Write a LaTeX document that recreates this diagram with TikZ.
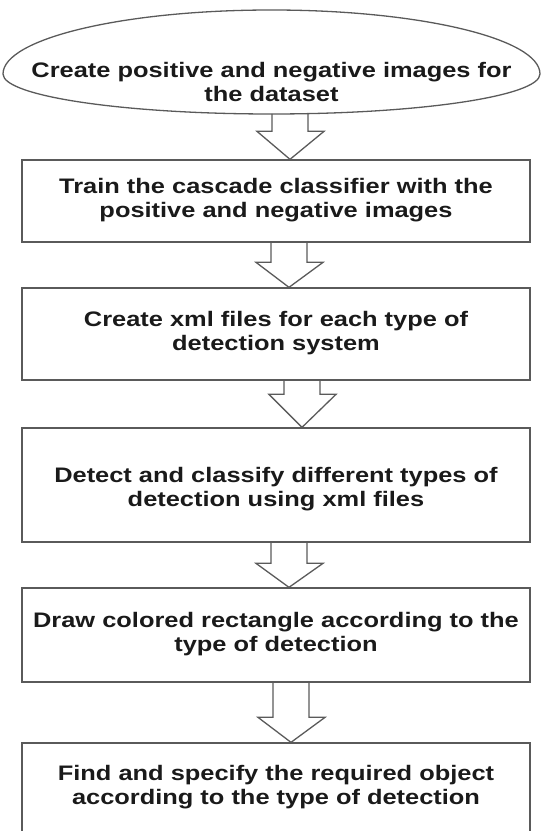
\documentclass[tikz,border=0pt]{standalone}
\usepackage{fontspec}
\setmainfont{Liberation Sans}
\usetikzlibrary{calc}
\definecolor{edge}{HTML}{5A5A5A}
\definecolor{ink}{HTML}{1A1A1A}
% bold text, widened horizontally, lines centred
\newcommand\wideline[1]{\scalebox{1.21}[1]{\begin{tabular}{@{}c@{}}#1\end{tabular}}}
% hollow block arrow: #1 upper point, #2 lower point, #3 centre x (pt), #4 head length (pt)
\newcommand\blockarrow[4]{%
  \draw[arrowline] let \p1=#1, \p2=#2 in
    ({#3pt-18pt},\y1) -- ({#3pt-18pt},{\y2+#4pt}) -- ({#3pt-33pt},{\y2+#4pt})
    -- (#3pt,\y2) -- ({#3pt+34pt},{\y2+#4pt}) -- ({#3pt+18pt},{\y2+#4pt})
    -- ({#3pt+18pt},\y1);}
\begin{document}
\begin{tikzpicture}[x=1pt,y=1pt,
  txt/.style={font=\fontsize{21}{24}\selectfont\bfseries, text=ink, inner sep=0pt},
  stepbox/.style={txt, draw=edge, line width=1.3pt, rectangle,
                  minimum width=508pt},
  arrowline/.style={draw=edge, line width=1.3pt, line join=miter}]
\useasboundingbox (0,0) rectangle (542,831);
\clip (0,0) rectangle (542,831);

% start ellipse (wider above its widest line than below)
\draw[draw=edge, line width=1.3pt]
  (3,757) arc[start angle=180, end angle=0, x radius=268.5, y radius=64]
          arc[start angle=0, end angle=-180, x radius=268.5, y radius=40];
\node[txt] (start) at (271.5,746)
  {\wideline{Create positive and negative images for\\the dataset}};
\coordinate (start-s) at (271.5,717);

% process steps
\node[stepbox, minimum height=82pt] (b1) at (276,630)
  {\wideline{Train the cascade classifier with the\\positive and negative images}};
\node[stepbox, minimum height=92pt] (b2) at (276,497)
  {\wideline{Create xml files for each type of\\detection system}};
\node[stepbox, minimum height=114pt] (b3) at (276,346) {};
\node[txt] (b3-text) at ($(b3.center)+(0,-5)$)
  {\wideline{Detect and classify different types of\\detection using xml files}};
\node[stepbox, minimum height=94pt] (b4) at (276,196)
  {\wideline{Draw colored rectangle according to the\\type of detection}};
\node[stepbox, minimum height=89pt] (b5) at (276,43.5)
  {\wideline{Find and specify the required object\\according to the type of detection}};

% connectors
\blockarrow{(start-s)}{(b1.north)}{290}{28}
\blockarrow{(b1.south)}{(b2.north)}{289}{25}
\blockarrow{(b2.south)}{(b3.north)}{302}{33}
\blockarrow{(b3.south)}{(b4.north)}{289}{24}
\blockarrow{(b4.south)}{(b5.north)}{291}{25}
\end{tikzpicture}
\end{document}
